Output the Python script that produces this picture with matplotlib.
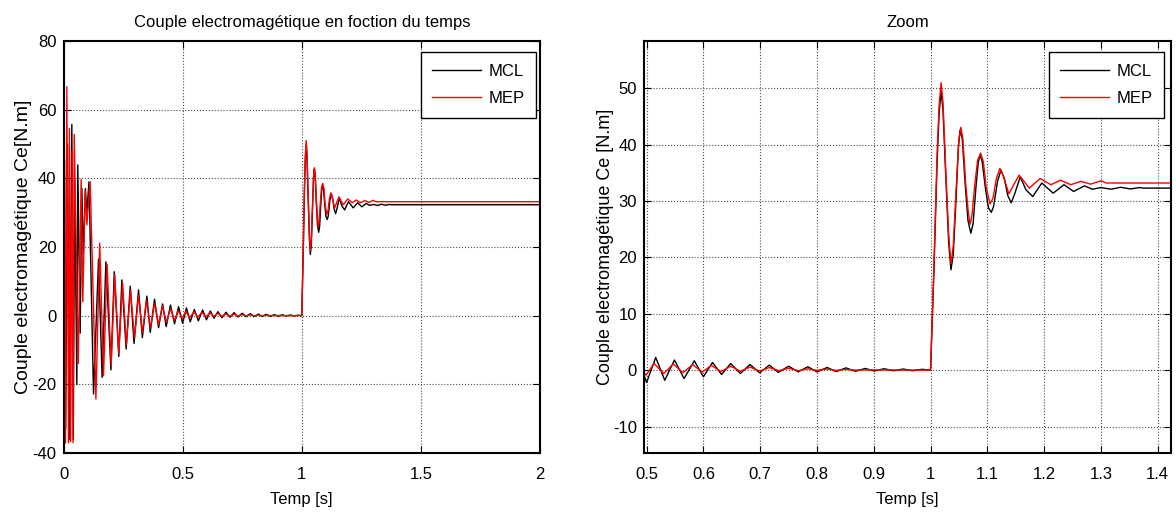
import matplotlib
matplotlib.use("Agg")
import matplotlib.pyplot as plt

plt.rcParams['font.family'] = ['Liberation Sans', 'DejaVu Sans']
plt.rcParams['axes.unicode_minus'] = False

# ---- data ----
# MCL (black): start-up transient, decay, load step at t = 1 s
t_mcl = [0.000, 0.004, 0.009, 0.017, 0.024, 0.035, 0.041, 0.047, 0.056, 0.060, 0.070, 0.077, 0.083, 0.092, 0.098, 0.107,
         0.126, 0.147, 0.162, 0.178, 0.199, 0.213, 0.232, 0.245, 0.263, 0.280, 0.296, 0.315, 0.331, 0.350, 0.364,
         0.382, 0.399, 0.416, 0.431, 0.449, 0.466, 0.483, 0.500, 0.516, 0.532, 0.549, 0.566, 0.584, 0.600, 0.616,
         0.632, 0.648, 0.665, 0.682, 0.699, 0.716, 0.732, 0.750, 0.767, 0.784, 0.800, 0.818, 0.834, 0.851, 0.868,
         0.885, 0.901, 0.918, 0.935, 0.952, 0.968, 0.985, 1.000,
         1.0058, 1.0116, 1.0151, 1.0186, 1.022, 1.027, 1.032, 1.036, 1.040, 1.045, 1.049, 1.052, 1.056, 1.061, 1.066,
         1.071, 1.075, 1.080, 1.084, 1.087, 1.091, 1.097, 1.102, 1.107, 1.111, 1.118, 1.124, 1.130, 1.136, 1.142,
         1.148, 1.158, 1.168, 1.180, 1.196, 1.216, 1.235, 1.252, 1.271, 1.285, 1.300, 1.318, 1.335, 1.352, 1.368,
         1.375, 2.000]
ce_mcl = [0.0, 45.0, -33.0, 50.0, -36.0, 55.7, -36.0, 40.0, -20.0, 43.9, -5.1, 37.1, 18.0, 37.0, 30.0, 39.0,
          -22.8, 16.5, -18.0, 15.7, -15.8, 12.8, -11.9, 10.4, -9.7, 8.6, -8.1, 7.5, -6.4, 5.7, -4.9,
          4.8, -3.5, 3.4, -3.2, 3.1, -2.4, 2.6, -2.2, 2.25, -1.8, 1.8, -1.5, 1.66, -1.2, 1.36,
          -0.77, 1.18, -0.6, 1.0, -0.47, 0.89, -0.4, 0.7, -0.3, 0.6, -0.3, 0.47, -0.25, 0.4, -0.2,
          0.3, -0.15, 0.25, -0.1, 0.2, -0.1, 0.15, 0.0,
          17.0, 37.0, 45.5, 49.6, 46.0, 34.0, 22.5, 17.8, 20.5, 30.5, 39.5, 42.6, 41.0, 33.0, 26.5,
          24.3, 26.0, 32.5, 36.8, 38.2, 37.0, 32.0, 28.8, 28.0, 29.0, 33.5, 35.5, 34.0, 31.0, 29.7,
          31.2, 34.3, 32.0, 30.8, 33.2, 31.4, 32.9, 31.7, 32.7, 32.1, 32.4, 32.1, 32.45, 32.15, 32.4,
          32.3, 32.3]

# MEP (red)
t_mep = [0.000, 0.0028, 0.0084, 0.014, 0.021, 0.025, 0.030, 0.036, 0.040, 0.045, 0.062, 0.074, 0.081, 0.091, 0.098,
         0.112, 0.136, 0.152, 0.168, 0.183, 0.200, 0.215, 0.232, 0.248, 0.264, 0.281, 0.298, 0.315, 0.331, 0.348,
         0.365, 0.382, 0.399, 0.415, 0.432, 0.449, 0.466, 0.482, 0.499, 0.513, 0.530, 0.547, 0.564, 0.581, 0.598,
         0.614, 0.631, 0.648, 0.665, 0.682, 0.699, 0.716, 0.733, 0.750, 0.767, 0.784, 0.800, 0.817, 0.834, 0.851,
         0.868, 0.885, 1.000,
         1.0058, 1.0116, 1.0151, 1.0186, 1.022, 1.027, 1.032, 1.036, 1.040, 1.045, 1.050, 1.0535, 1.057, 1.062,
         1.067, 1.0698, 1.073, 1.078, 1.083, 1.0884, 1.093, 1.098, 1.1047, 1.110, 1.116, 1.122, 1.128, 1.138,
         1.147, 1.156, 1.174, 1.193, 1.212, 1.229, 1.247, 1.265, 1.282, 1.300, 1.310, 2.000]
ce_mep = [0.0, 59.4, -37.1, 66.7, -37.0, 54.5, -36.7, 48.0, -37.0, 52.8, -13.9, 39.7, 4.1, 36.6, 26.4,
          39.0, -24.3, 21.1, -17.5, 15.0, -14.5, 12.0, -11.0, 9.5, -8.5, 7.5, -6.5, 6.0, -5.0, 4.5,
          -3.6, 3.5, -2.6, 2.8, -1.9, 2.0, -1.4, 1.5, -0.9, 1.2, -0.6, 1.1, -0.45, 1.0, -0.35,
          0.85, -0.25, 0.7, -0.2, 0.55, -0.15, 0.45, -0.1, 0.35, -0.1, 0.25, -0.05, 0.2, -0.05, 0.15,
          0.0, 0.05, 0.0,
          17.8, 38.5, 47.0, 51.0, 47.5, 35.0, 24.0, 18.9, 22.0, 32.0, 41.0, 43.1, 41.0, 33.0,
          27.5, 25.9, 27.5, 33.0, 37.3, 38.5, 37.0, 32.5, 29.5, 30.5, 34.0, 35.8, 34.5, 31.3,
          33.0, 34.6, 32.3, 34.0, 32.9, 33.7, 32.9, 33.5, 33.0, 33.6, 33.2, 33.2]

labels = ['MCL', 'MEP']
colors = ['black', 'red']
left_xticks = [0, 0.5, 1, 1.5, 2]
left_xticklabels = ['0', '0.5', '1', '1.5', '2']
left_yticks = [-40, -20, 0, 20, 40, 60, 80]
right_xticks = [0.5, 0.6, 0.7, 0.8, 0.9, 1.0, 1.1, 1.2, 1.3, 1.4]
right_xticklabels = ['0.5', '0.6', '0.7', '0.8', '0.9', '1', '1.1', '1.2', '1.3', '1.4']
right_yticks = [-10, 0, 10, 20, 30, 40, 50]

W, H = 1176, 522
fig = plt.figure(figsize=(W / 100, H / 100), dpi=100)

def px_axes(l, t, r, b):
    return fig.add_axes([l / W, 1 - b / H, (r - l) / W, (b - t) / H])

ax1 = px_axes(63.5, 41, 540, 453)
ax2 = px_axes(644, 41, 1171, 453)

FS = 12
for ax in (ax1, ax2):
    ax.plot(t_mcl, ce_mcl, color=colors[0], lw=1.0, label=labels[0])
    ax.plot(t_mep, ce_mep, color=colors[1], lw=1.0, label=labels[1])
    ax.grid(True, linestyle=':', color='0.3', linewidth=0.8)
    ax.tick_params(direction='in', top=True, right=True, length=5, width=0.8, labelsize=FS)
    ax.tick_params(axis='x', pad=10)
    ax.tick_params(axis='y', pad=5)
    for s in ax.spines.values():
        s.set_linewidth(1.5)

ax1.set_xlim(0, 2)
ax1.set_ylim(-40, 80)
ax1.set_xticks(left_xticks)
ax1.set_xticklabels(left_xticklabels)
ax1.set_yticks(left_yticks)
ax1.set_title('Couple electromagétique en foction du temps', fontsize=FS, pad=10)
ax1.set_xlabel('Temp [s]', fontsize=FS, labelpad=7)
ax1.set_ylabel('Couple electromagétique Ce[N.m]', fontsize=14, labelpad=0)

ax2.set_xlim(0.4954, 1.4235)
ax2.set_ylim(-14.7, 58.4)
ax2.set_xticks(right_xticks)
ax2.set_xticklabels(right_xticklabels)
ax2.set_yticks(right_yticks)
ax2.set_title('Zoom', fontsize=FS, pad=10)
ax2.set_xlabel('Temp [s]', fontsize=FS, labelpad=7)
ax2.set_ylabel('Couple electromagétique Ce [N.m]', fontsize=13, labelpad=-1)

for ax, right_px in ((ax1, 536), (ax2, 1164)):
    leg = ax.legend(loc='upper right', bbox_to_anchor=(right_px / W, 1 - 52 / H),
                    bbox_transform=fig.transFigure, borderaxespad=0, fancybox=False,
                    framealpha=1, edgecolor='black', fontsize=12, handlelength=2.9,
                    handletextpad=0.45, labelspacing=0.75, borderpad=0.7)
    leg.get_frame().set_linewidth(1.0)

fig.savefig('out.png', dpi=100)
